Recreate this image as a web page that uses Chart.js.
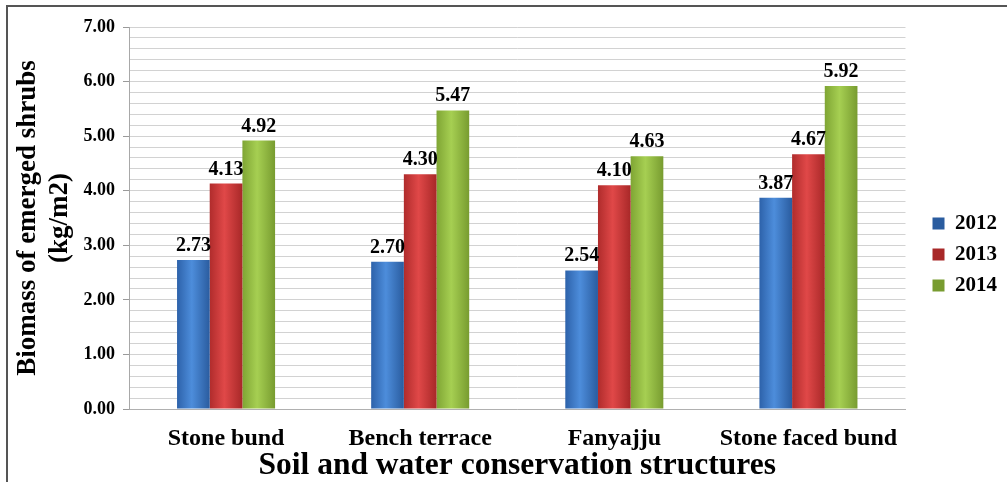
<!DOCTYPE html>
<html>
<head>
<meta charset="utf-8">
<script src="https://cdn.jsdelivr.net/npm/chart.js@4.4.1/dist/chart.umd.min.js"></script>
<style>
  html, body { margin: 0; padding: 0; background: #fff; }
  #wrap { width: 1007px; height: 482px; }
</style>
</head>
<body>
<div id="wrap"><canvas id="barchart" width="1007" height="482"></canvas></div>
<script>
var categories = ['Stone bund', 'Bench terrace', 'Fanyajju', 'Stone faced bund'];
var years = ['2012', '2013', '2014'];
var values2012 = [2.73, 2.70, 2.54, 3.87];
var values2013 = [4.13, 4.30, 4.10, 4.67];
var values2014 = [4.92, 5.47, 4.63, 5.92];

var serif = "'Liberation Serif', 'Times New Roman', serif";
var palette = [
    ['#2d62aa', '#4d8ddb', '#2a5c9f'],
    ['#b02c2c', '#e04848', '#a82828'],
    ['#7fa534', '#a6cf52', '#789c30']
];

function barFill(i) {
    return function (c) {
        var el = c.element;
        var chart = c.chart;
        if (!el || el.x === undefined || !el.width) return palette[i][1];
        var g = chart.ctx.createLinearGradient(el.x - el.width / 2, 0, el.x + el.width / 2, 0);
        g.addColorStop(0, palette[i][0]);
        g.addColorStop(0.45, palette[i][1]);
        g.addColorStop(1, palette[i][2]);
        return g;
    };
}

var valueLabels = {
    id: 'valueLabels',
    afterDatasetsDraw: function (chart) {
        var ctx = chart.ctx;
        ctx.save();
        ctx.font = 'bold 20px ' + serif;
        ctx.fillStyle = '#000';
        ctx.textAlign = 'center';
        ctx.textBaseline = 'alphabetic';
        chart.data.datasets.forEach(function (ds, i) {
            chart.getDatasetMeta(i).data.forEach(function (bar, j) {
                ctx.fillText(ds.data[j].toFixed(2), bar.x, bar.y - 9);
            });
        });
        ctx.restore();
    }
};

var frame = {
    id: 'frame',
    beforeDraw: function (chart) {
        var ctx = chart.ctx;
        ctx.save();
        ctx.fillStyle = '#fff';
        ctx.fillRect(0, 0, chart.width, chart.height);
        ctx.restore();
    },
    afterDraw: function (chart) {
        var ctx = chart.ctx;
        ctx.save();
        ctx.strokeStyle = '#555';
        ctx.lineWidth = 2;
        ctx.beginPath();
        ctx.moveTo(7, chart.height);
        ctx.lineTo(7, 6);
        ctx.lineTo(chart.width, 6);
        ctx.stroke();
        ctx.restore();
    }
};

var isWhole = function (v) { return Math.abs(v - Math.round(v)) < 1e-6; };

var ctx = document.getElementById('barchart').getContext('2d');
var myChart = new Chart(ctx, {
    type: 'bar',
    data: {
        labels: categories,
        datasets: [{
            label: years[0],
            data: values2012,
            backgroundColor: barFill(0)
        },
        {
            label: years[1],
            data: values2013,
            backgroundColor: barFill(1)
        },
        {
            label: years[2],
            data: values2014,
            backgroundColor: barFill(2)
        }]
    },
    options: {
        responsive: false,
        animation: false,
        devicePixelRatio: 1,
        categoryPercentage: 0.505,
        barPercentage: 1,
        layout: {
            padding: { top: 27, right: 0, bottom: 0, left: 0 }
        },
        plugins: {
            legend: {
                position: 'right',
                labels: {
                    boxWidth: 12,
                    boxHeight: 12,
                    padding: 10,
                    color: '#000',
                    font: { family: serif, size: 21, weight: 'bold' }
                }
            },
            tooltip: { enabled: false }
        },
        scales: {
            x: {
                grid: { display: false, drawTicks: false, tickLength: 0 },
                border: { color: '#b0b0b0', width: 1 },
                ticks: {
                    padding: 15,
                    color: '#000',
                    font: { family: serif, size: 24, weight: 'bold' }
                },
                title: {
                    display: true,
                    text: 'Soil and water conservation structures',
                    color: '#000',
                    font: { family: serif, size: 31.5, weight: 'bold', lineHeight: 1 },
                    padding: { top: 0, bottom: 0 }
                },
                afterFit: function (scale) { scale.height = 73; }
            },
            y: {
                min: 0,
                max: 7,
                beginAtZero: true,
                grid: {
                    color: '#d2d2d2',
                    tickLength: 6,
                    tickColor: function (c) { return isWhole(c.tick.value) ? '#9a9a9a' : 'rgba(0,0,0,0)'; }
                },
                border: { color: '#a8a8a8', width: 1 },
                ticks: {
                    stepSize: 0.2,
                    autoSkip: false,
                    padding: 8,
                    color: '#000',
                    font: { family: serif, size: 18, weight: 'bold' },
                    callback: function (v) { return isWhole(v) ? Number(v).toFixed(2) : ''; }
                },
                title: {
                    display: true,
                    text: ['Biomass of emerged shrubs', '(kg/m2)'],
                    color: '#000',
                    font: { family: serif, size: 27, weight: 'bold', lineHeight: 1.185 },
                    padding: { top: 12, bottom: 0 }
                },
                afterFit: function (scale) { scale.width = 129; }
            },
            gap: {
                type: 'linear',
                position: 'right',
                display: true,
                grid: { display: false, drawTicks: false },
                border: { display: false },
                ticks: { display: false },
                afterFit: function (scale) { scale.width = 17; }
            }
        }
    },
    plugins: [valueLabels, frame]
});
myChart.update();
</script>
</body>
</html>
